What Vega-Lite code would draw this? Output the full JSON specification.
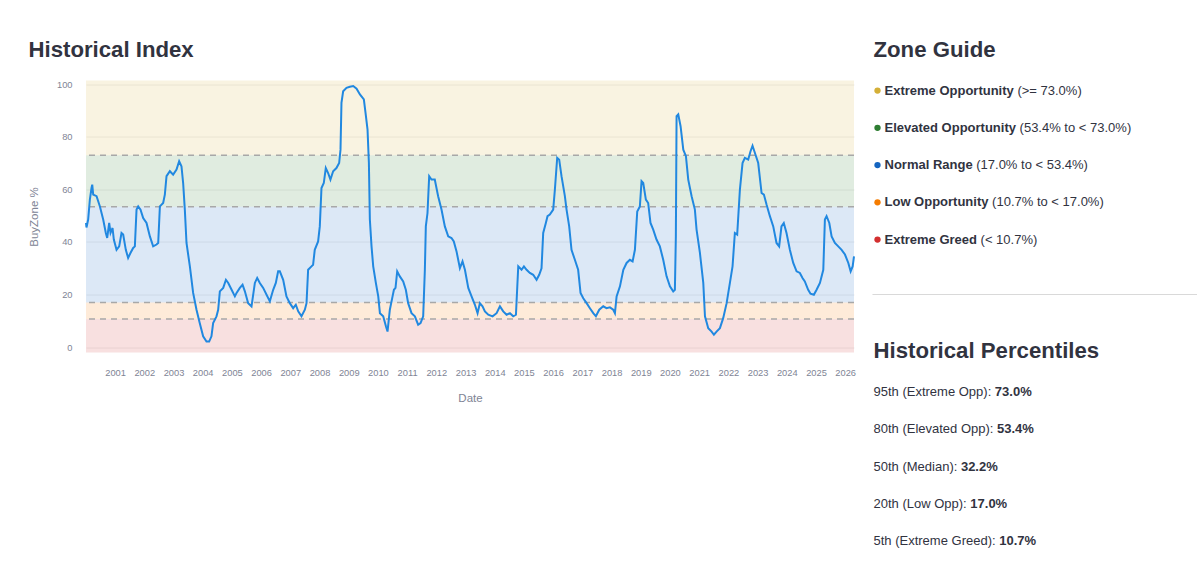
{
  "$schema": "https://vega.github.io/schema/vega-lite/v6.json",
  "background": "white",
  "padding": {"left": 28, "top": 38.5, "right": 0, "bottom": 0},
  "spacing": 13.5,
  "config": {
    "font": "Liberation Sans",
    "view": {"stroke": null},
    "axis": {"labelFont": "Liberation Sans", "titleFont": "Liberation Sans", "labelColor": "#808495", "titleColor": "#808495", "titleFontWeight": "normal"},
    "title": {"font": "Liberation Sans", "fontSize": 22.2, "fontWeight": "bold", "color": "#31333F", "anchor": "start"}
  },
  "datasets": {
    "bands": [
      {"zone": "Extreme Opportunity", "lo": 73, "hi": 105},
      {"zone": "Elevated Opportunity", "lo": 53.4, "hi": 73},
      {"zone": "Normal Range", "lo": 17, "hi": 53.4},
      {"zone": "Low Opportunity", "lo": 10.7, "hi": 17},
      {"zone": "Extreme Greed", "lo": -5, "hi": 10.7}
    ],
    "thresholds": [{"level": 73}, {"level": 53.4}, {"level": 17}, {"level": 10.7}],
    "zones": [
      {"row": 1, "name": "Extreme Opportunity", "range": "(>= 73.0%)"},
      {"row": 2, "name": "Elevated Opportunity", "range": "(53.4% to < 73.0%)"},
      {"row": 3, "name": "Normal Range", "range": "(17.0% to < 53.4%)"},
      {"row": 4, "name": "Low Opportunity", "range": "(10.7% to < 17.0%)"},
      {"row": 5, "name": "Extreme Greed", "range": "(< 10.7%)"}
    ],
    "pcts": [
      {"row": 1, "prefix": "95th (Extreme Opp):", "value": "73.0%"},
      {"row": 2, "prefix": "80th (Elevated Opp):", "value": "53.4%"},
      {"row": 3, "prefix": "50th (Median):", "value": "32.2%"},
      {"row": 4, "prefix": "20th (Low Opp):", "value": "17.0%"},
      {"row": 5, "prefix": "5th (Extreme Greed):", "value": "10.7%"}
    ],
    "series": [
      {"date": "2000-01-03", "v": 47.2}, {"date": "2000-01-09", "v": 45.5}, {"date": "2000-01-30", "v": 48.5},
      {"date": "2000-02-20", "v": 56}, {"date": "2000-03-12", "v": 60.5}, {"date": "2000-03-21", "v": 61.8},
      {"date": "2000-04-02", "v": 58}, {"date": "2000-05-14", "v": 57.4}, {"date": "2000-06-25", "v": 53.5},
      {"date": "2000-08-05", "v": 48.5}, {"date": "2000-09-07", "v": 43.4}, {"date": "2000-09-24", "v": 41.5},
      {"date": "2000-10-19", "v": 47.2}, {"date": "2000-11-05", "v": 43.4}, {"date": "2000-11-30", "v": 45.3},
      {"date": "2000-12-16", "v": 40.9}, {"date": "2001-01-19", "v": 37}, {"date": "2001-02-21", "v": 38.3},
      {"date": "2001-03-22", "v": 43.4}, {"date": "2001-04-12", "v": 42.8}, {"date": "2001-05-15", "v": 37},
      {"date": "2001-06-13", "v": 33.9}, {"date": "2001-07-12", "v": 35.8}, {"date": "2001-08-15", "v": 37.7},
      {"date": "2001-09-05", "v": 38.3}, {"date": "2001-09-26", "v": 52.3}, {"date": "2001-10-17", "v": 53.5},
      {"date": "2001-11-15", "v": 52.3}, {"date": "2001-12-18", "v": 49.1}, {"date": "2002-01-29", "v": 47.2},
      {"date": "2002-03-12", "v": 42.1}, {"date": "2002-04-22", "v": 38.3}, {"date": "2002-06-03", "v": 39},
      {"date": "2002-06-24", "v": 39.6}, {"date": "2002-07-15", "v": 53.5}, {"date": "2002-08-25", "v": 54.8},
      {"date": "2002-09-15", "v": 58}, {"date": "2002-10-06", "v": 65}, {"date": "2002-11-17", "v": 66.9},
      {"date": "2002-12-28", "v": 65.6}, {"date": "2003-02-08", "v": 67.5}, {"date": "2003-03-13", "v": 70.7},
      {"date": "2003-04-11", "v": 68.8}, {"date": "2003-05-02", "v": 62.4}, {"date": "2003-05-23", "v": 52.3},
      {"date": "2003-06-13", "v": 39.6}, {"date": "2003-07-25", "v": 30.7}, {"date": "2003-09-04", "v": 20.6},
      {"date": "2003-10-16", "v": 14.2}, {"date": "2003-11-26", "v": 9.1}, {"date": "2004-01-07", "v": 4.1},
      {"date": "2004-02-18", "v": 2.1}, {"date": "2004-03-22", "v": 2.1}, {"date": "2004-04-20", "v": 4.1},
      {"date": "2004-05-11", "v": 9.1}, {"date": "2004-06-22", "v": 11.7}, {"date": "2004-07-13", "v": 14.2},
      {"date": "2004-08-03", "v": 21.2}, {"date": "2004-09-14", "v": 22.5}, {"date": "2004-10-18", "v": 25.6},
      {"date": "2004-11-16", "v": 24.4}, {"date": "2004-12-28", "v": 21.8}, {"date": "2005-02-07", "v": 19.3},
      {"date": "2005-02-28", "v": 20.6}, {"date": "2005-04-10", "v": 22.5}, {"date": "2005-05-14", "v": 23.7},
      {"date": "2005-06-12", "v": 21.2}, {"date": "2005-07-23", "v": 16.7}, {"date": "2005-09-03", "v": 15.5},
      {"date": "2005-10-15", "v": 24.4}, {"date": "2005-11-13", "v": 26.3}, {"date": "2005-12-16", "v": 24.4},
      {"date": "2006-01-27", "v": 22.5}, {"date": "2006-03-10", "v": 19.9}, {"date": "2006-04-20", "v": 17.4},
      {"date": "2006-06-01", "v": 21.8}, {"date": "2006-07-04", "v": 24.4}, {"date": "2006-08-02", "v": 28.8},
      {"date": "2006-08-23", "v": 28.8}, {"date": "2006-10-04", "v": 25.6}, {"date": "2006-11-14", "v": 19.3},
      {"date": "2006-12-26", "v": 16.7}, {"date": "2007-02-06", "v": 14.8}, {"date": "2007-03-11", "v": 16.1},
      {"date": "2007-04-10", "v": 13.6}, {"date": "2007-05-21", "v": 11.7}, {"date": "2007-07-02", "v": 14.2},
      {"date": "2007-07-23", "v": 16.7}, {"date": "2007-08-12", "v": 29.4}, {"date": "2007-09-23", "v": 30.7},
      {"date": "2007-10-13", "v": 31.3}, {"date": "2007-11-03", "v": 37}, {"date": "2007-12-15", "v": 40.2},
      {"date": "2008-01-05", "v": 45.9}, {"date": "2008-01-26", "v": 60.5}, {"date": "2008-02-24", "v": 62.4},
      {"date": "2008-03-20", "v": 68.1}, {"date": "2008-04-18", "v": 66.2}, {"date": "2008-05-17", "v": 63.7},
      {"date": "2008-06-20", "v": 66.9}, {"date": "2008-07-31", "v": 68.1}, {"date": "2008-09-03", "v": 70},
      {"date": "2008-09-20", "v": 75.1}, {"date": "2008-10-02", "v": 92.9}, {"date": "2008-10-23", "v": 97.3},
      {"date": "2008-12-04", "v": 98.6}, {"date": "2009-01-15", "v": 99}, {"date": "2009-02-26", "v": 99.3},
      {"date": "2009-04-09", "v": 98.3}, {"date": "2009-05-21", "v": 96.1}, {"date": "2009-07-09", "v": 94.2},
      {"date": "2009-07-30", "v": 89.1}, {"date": "2009-08-24", "v": 82.7}, {"date": "2009-09-10", "v": 70},
      {"date": "2009-09-22", "v": 48.5}, {"date": "2009-10-13", "v": 38.3}, {"date": "2009-11-03", "v": 30.7},
      {"date": "2009-12-06", "v": 24.4}, {"date": "2010-01-05", "v": 19.3}, {"date": "2010-01-26", "v": 12.9},
      {"date": "2010-03-08", "v": 11.7}, {"date": "2010-04-11", "v": 7.9}, {"date": "2010-05-01", "v": 5.9},
      {"date": "2010-05-30", "v": 14.2}, {"date": "2010-07-03", "v": 19.3}, {"date": "2010-07-20", "v": 21.8},
      {"date": "2010-08-09", "v": 22.5}, {"date": "2010-08-30", "v": 28.8}, {"date": "2010-10-02", "v": 26.9},
      {"date": "2010-11-13", "v": 25}, {"date": "2010-12-16", "v": 21.8}, {"date": "2011-01-14", "v": 16.7},
      {"date": "2011-02-25", "v": 12.9}, {"date": "2011-04-08", "v": 11.7}, {"date": "2011-05-19", "v": 8.5},
      {"date": "2011-06-18", "v": 9.1}, {"date": "2011-07-21", "v": 11.7}, {"date": "2011-08-11", "v": 29.4},
      {"date": "2011-08-23", "v": 45.9}, {"date": "2011-09-13", "v": 51}, {"date": "2011-10-04", "v": 65},
      {"date": "2011-11-02", "v": 63.7}, {"date": "2011-12-13", "v": 63.7}, {"date": "2012-01-24", "v": 57.4},
      {"date": "2012-03-06", "v": 52.3}, {"date": "2012-04-17", "v": 45.9}, {"date": "2012-05-29", "v": 42.1},
      {"date": "2012-07-09", "v": 41.5}, {"date": "2012-08-07", "v": 40.2}, {"date": "2012-09-10", "v": 36.4},
      {"date": "2012-10-22", "v": 30}, {"date": "2012-11-24", "v": 32.6}, {"date": "2012-12-24", "v": 29.4},
      {"date": "2013-02-04", "v": 22.5}, {"date": "2013-03-17", "v": 19.3}, {"date": "2013-04-28", "v": 16.1},
      {"date": "2013-05-31", "v": 12.9}, {"date": "2013-06-29", "v": 16.7}, {"date": "2013-08-01", "v": 15.5},
      {"date": "2013-08-31", "v": 13.6}, {"date": "2013-10-12", "v": 12.3}, {"date": "2013-12-05", "v": 11.7},
      {"date": "2014-01-24", "v": 12.9}, {"date": "2014-03-07", "v": 15.5}, {"date": "2014-04-17", "v": 13.6},
      {"date": "2014-05-29", "v": 12.3}, {"date": "2014-07-10", "v": 12.9}, {"date": "2014-08-20", "v": 11.7},
      {"date": "2014-09-23", "v": 12.3}, {"date": "2014-10-22", "v": 30.7}, {"date": "2014-12-02", "v": 29.4},
      {"date": "2015-01-01", "v": 30.7}, {"date": "2015-02-03", "v": 29.4}, {"date": "2015-03-16", "v": 28.2},
      {"date": "2015-04-27", "v": 27.5}, {"date": "2015-06-08", "v": 25.6}, {"date": "2015-07-11", "v": 27.5},
      {"date": "2015-08-09", "v": 30}, {"date": "2015-08-30", "v": 43.4}, {"date": "2015-10-02", "v": 47.2},
      {"date": "2015-10-23", "v": 49.8}, {"date": "2015-11-21", "v": 50.4}, {"date": "2016-01-02", "v": 52.3},
      {"date": "2016-01-23", "v": 59.9}, {"date": "2016-02-21", "v": 72}, {"date": "2016-03-17", "v": 71.3},
      {"date": "2016-04-15", "v": 65}, {"date": "2016-05-27", "v": 57.4}, {"date": "2016-06-17", "v": 52.3},
      {"date": "2016-07-20", "v": 45.9}, {"date": "2016-08-18", "v": 37}, {"date": "2016-09-29", "v": 33.2},
      {"date": "2016-11-09", "v": 29.4}, {"date": "2016-12-09", "v": 20.6}, {"date": "2017-01-12", "v": 18.6},
      {"date": "2017-02-23", "v": 16.7}, {"date": "2017-04-05", "v": 14.8}, {"date": "2017-05-17", "v": 12.9},
      {"date": "2017-06-19", "v": 11.7}, {"date": "2017-07-31", "v": 14.2}, {"date": "2017-09-19", "v": 15.5},
      {"date": "2017-10-30", "v": 14.8}, {"date": "2017-12-11", "v": 15.1}, {"date": "2018-01-22", "v": 14.2},
      {"date": "2018-02-12", "v": 12.9}, {"date": "2018-03-05", "v": 19.3}, {"date": "2018-04-16", "v": 23.1},
      {"date": "2018-05-28", "v": 29.4}, {"date": "2018-07-08", "v": 32}, {"date": "2018-08-18", "v": 33.2},
      {"date": "2018-09-21", "v": 32.6}, {"date": "2018-10-20", "v": 37}, {"date": "2018-11-18", "v": 51.6},
      {"date": "2018-12-21", "v": 53.5}, {"date": "2019-01-11", "v": 63.1}, {"date": "2019-02-01", "v": 62.4},
      {"date": "2019-03-06", "v": 56.1}, {"date": "2019-04-04", "v": 54.8}, {"date": "2019-05-03", "v": 47.2},
      {"date": "2019-06-06", "v": 44.7}, {"date": "2019-07-17", "v": 40.9}, {"date": "2019-08-28", "v": 38.3},
      {"date": "2019-10-09", "v": 33.2}, {"date": "2019-11-20", "v": 26.9}, {"date": "2020-01-01", "v": 23.1},
      {"date": "2020-02-11", "v": 21.2}, {"date": "2020-03-03", "v": 21.8}, {"date": "2020-03-15", "v": 42.1},
      {"date": "2020-03-24", "v": 87.8}, {"date": "2020-04-14", "v": 88.5}, {"date": "2020-05-13", "v": 84},
      {"date": "2020-06-16", "v": 75.1}, {"date": "2020-07-19", "v": 72.6}, {"date": "2020-08-17", "v": 63.7},
      {"date": "2020-09-28", "v": 57.4}, {"date": "2020-11-08", "v": 52.3}, {"date": "2020-11-29", "v": 44.7},
      {"date": "2021-01-10", "v": 35.8}, {"date": "2021-02-21", "v": 24.4}, {"date": "2021-03-14", "v": 11.7},
      {"date": "2021-04-24", "v": 7.2}, {"date": "2021-06-05", "v": 5.9}, {"date": "2021-07-04", "v": 4.7},
      {"date": "2021-08-06", "v": 5.9}, {"date": "2021-09-17", "v": 7.2}, {"date": "2021-10-28", "v": 11},
      {"date": "2021-12-10", "v": 16.7}, {"date": "2022-01-20", "v": 24.4}, {"date": "2022-02-22", "v": 30.7},
      {"date": "2022-03-23", "v": 43.4}, {"date": "2022-04-21", "v": 42.8}, {"date": "2022-05-25", "v": 59.9},
      {"date": "2022-06-27", "v": 70}, {"date": "2022-07-26", "v": 72}, {"date": "2022-09-06", "v": 71.3},
      {"date": "2022-10-05", "v": 74.5}, {"date": "2022-10-30", "v": 76.6}, {"date": "2022-11-28", "v": 73.9},
      {"date": "2023-01-09", "v": 70}, {"date": "2023-02-20", "v": 58.6}, {"date": "2023-03-21", "v": 58},
      {"date": "2023-04-23", "v": 54.2}, {"date": "2023-06-04", "v": 49.8}, {"date": "2023-07-16", "v": 45.9},
      {"date": "2023-08-26", "v": 39.6}, {"date": "2023-09-28", "v": 38.3}, {"date": "2023-10-27", "v": 45.9},
      {"date": "2023-11-25", "v": 47.2}, {"date": "2023-12-29", "v": 43.4}, {"date": "2024-02-09", "v": 37},
      {"date": "2024-03-22", "v": 32}, {"date": "2024-05-03", "v": 28.8}, {"date": "2024-06-13", "v": 28.2},
      {"date": "2024-07-16", "v": 26.3}, {"date": "2024-08-14", "v": 25}, {"date": "2024-09-25", "v": 21.8},
      {"date": "2024-10-24", "v": 20.3}, {"date": "2024-12-05", "v": 19.9}, {"date": "2025-01-08", "v": 21.8},
      {"date": "2025-02-19", "v": 24.4}, {"date": "2025-04-02", "v": 29.4}, {"date": "2025-04-22", "v": 48.5},
      {"date": "2025-05-13", "v": 49.8}, {"date": "2025-06-16", "v": 47.2}, {"date": "2025-07-15", "v": 42.1},
      {"date": "2025-08-25", "v": 39.6}, {"date": "2025-10-06", "v": 38.3}, {"date": "2025-11-17", "v": 37},
      {"date": "2025-12-29", "v": 35.2}, {"date": "2026-02-09", "v": 32}, {"date": "2026-03-10", "v": 28.8},
      {"date": "2026-04-04", "v": 30.7}, {"date": "2026-04-21", "v": 34.5}
    ]
  },
  "hconcat": [
    {
      "title": {"text": "Historical Index", "frame": "bounds", "offset": 19},
      "width": 768,
      "height": 272,
      "layer": [
        {
          "data": {"name": "bands"},
          "mark": {"type": "rect", "opacity": 0.15, "clip": true},
          "encoding": {
            "y": {"field": "lo", "type": "quantitative", "title": "BuyZone %",
              "scale": {"domain": [-2.06, 101.4], "nice": false, "zero": false},
              "axis": {"values": [0, 10, 20, 30, 40, 50, 60, 70, 80, 90, 100], "grid": true, "gridColor": "#eeeeee", "gridWidth": 1,
                "ticks": false, "tickSize": 0, "domain": false, "labelPadding": 14, "labelFontSize": 9.3,
                "titleFontSize": 11.5, "titlePadding": 17}},
            "y2": {"field": "hi"},
            "color": {"field": "zone", "type": "nominal", "legend": null,
              "scale": {"domain": ["Extreme Opportunity", "Elevated Opportunity", "Normal Range", "Low Opportunity", "Extreme Greed"],
                "range": ["#d4af37", "#2e7d32", "#1565c0", "#f57c00", "#d32f2f"]}}
          }
        },
        {
          "data": {"name": "thresholds"},
          "mark": {"type": "rule", "strokeDash": [6, 5], "color": "#a8a8a8", "strokeWidth": 1.5},
          "encoding": {
            "y": {"field": "level", "type": "quantitative", "title": "BuyZone %", "scale": {"domain": [-2.06, 101.4], "nice": false, "zero": false}}
          }
        },
        {
          "data": {"name": "series"},
          "mark": {"type": "line", "color": "#2188e0", "strokeWidth": 2},
          "encoding": {
            "x": {"field": "date", "type": "temporal", "title": "Date",
              "scale": {"type": "utc", "domain": [{"year": 2000, "month": 1, "date": 3, "utc": true}, {"year": 2026, "month": 4, "date": 21, "utc": true}]},
              "axis": {"values": [
                {"year": 2001, "utc": true}, {"year": 2002, "utc": true}, {"year": 2003, "utc": true}, {"year": 2004, "utc": true},
                {"year": 2005, "utc": true}, {"year": 2006, "utc": true}, {"year": 2007, "utc": true}, {"year": 2008, "utc": true},
                {"year": 2009, "utc": true}, {"year": 2010, "utc": true}, {"year": 2011, "utc": true}, {"year": 2012, "utc": true},
                {"year": 2013, "utc": true}, {"year": 2014, "utc": true}, {"year": 2015, "utc": true}, {"year": 2016, "utc": true},
                {"year": 2017, "utc": true}, {"year": 2018, "utc": true}, {"year": 2019, "utc": true}, {"year": 2020, "utc": true},
                {"year": 2021, "utc": true}, {"year": 2022, "utc": true}, {"year": 2023, "utc": true}, {"year": 2024, "utc": true},
                {"year": 2025, "utc": true}, {"year": 2026, "utc": true}],
                "format": "%Y", "grid": false, "ticks": false, "tickSize": 0, "domain": false, "labelPadding": 15.5,
                "labelFontSize": 9.3, "labelOverlap": false, "labelFlush": false, "titleFontSize": 11.5, "titlePadding": 15}},
            "y": {"field": "v", "type": "quantitative", "title": "BuyZone %", "scale": {"domain": [-2.06, 101.4], "nice": false, "zero": false}}
          }
        }
      ]
    },
    {
      "spacing": 44,
      "vconcat": [
        {
          "title": {"text": "Zone Guide", "frame": "group", "dx": -4, "offset": 19},
          "width": 321,
          "height": 214,
          "layer": [
            {
              "data": {"name": "zones"},
              "mark": {"type": "circle", "size": 40, "opacity": 1},
              "encoding": {
                "x": {"datum": 0, "type": "quantitative", "scale": {"domain": [0, 1], "nice": false, "zero": false}, "axis": null},
                "y": {"field": "row", "type": "quantitative", "scale": {"domain": [0.729, 6.474], "reverse": true, "nice": false, "zero": false}, "axis": null},
                "color": {"field": "name", "type": "nominal", "legend": null,
                  "scale": {"domain": ["Extreme Opportunity", "Elevated Opportunity", "Normal Range", "Low Opportunity", "Extreme Greed"],
                    "range": ["#d4af37", "#2e7d32", "#1565c0", "#f57c00", "#d32f2f"]}}
              }
            },
            {
              "data": {"name": "zones"},
              "mark": {"type": "text", "align": "left", "baseline": "middle", "dx": 7, "fontSize": 13, "fontWeight": "bold", "color": "#31333F"},
              "encoding": {
                "x": {"datum": 0, "type": "quantitative"},
                "y": {"field": "row", "type": "quantitative"},
                "text": {"field": "name"}
              }
            },
            {
              "data": {"name": "zones"},
              "mark": {"type": "text", "align": "left", "baseline": "middle", "fontSize": 13, "color": "#31333F",
                "dx": {"expr": "7 + 3.6 + 0.013 * (611 * length(datum.name) - 333 * (length(datum.name) - length(replace(datum.name, regexp('[il ]', 'g'), ''))) - 278 * (length(datum.name) - length(replace(datum.name, regexp('t', 'g'), ''))) - 222 * (length(datum.name) - length(replace(datum.name, regexp('r', 'g'), ''))) - 55 * (length(datum.name) - length(replace(datum.name, regexp('[xeyva]', 'g'), ''))) + 56 * (length(datum.name) - length(replace(datum.name, regexp('E', 'g'), ''))) + 111 * (length(datum.name) - length(replace(datum.name, regexp('[NR]', 'g'), ''))) + 167 * (length(datum.name) - length(replace(datum.name, regexp('[OwG]', 'g'), ''))) + 278 * (length(datum.name) - length(replace(datum.name, regexp('m', 'g'), ''))))"}},
              "encoding": {
                "x": {"datum": 0, "type": "quantitative"},
                "y": {"field": "row", "type": "quantitative"},
                "text": {"field": "range"}
              }
            },
            {
              "data": {"values": [{"divider": "end of zone guide"}]},
              "mark": {"type": "rule", "color": "#d9d9d9", "strokeWidth": 1},
              "encoding": {
                "x": {"datum": -0.0156, "type": "quantitative"},
                "x2": {"datum": 1},
                "y": {"datum": 6.474, "type": "quantitative"}
              }
            }
          ]
        },
        {
          "title": {"text": "Historical Percentiles", "frame": "group", "dx": -4, "offset": 11.6},
          "width": 321,
          "height": 186.5,
          "data": {"name": "pcts"},
          "encoding": {
            "x": {"datum": 0, "type": "quantitative", "scale": {"domain": [0, 1]}, "axis": null},
            "y": {"field": "row", "type": "quantitative", "scale": {"domain": [0.5, 5.5], "reverse": true, "nice": false, "zero": false}, "axis": null}
          },
          "layer": [
            {
              "mark": {"type": "text", "align": "left", "baseline": "middle", "dx": -4, "fontSize": 13, "color": "#31333F"},
              "encoding": {"text": {"field": "prefix"}}
            },
            {
              "mark": {"type": "text", "align": "left", "baseline": "middle", "fontSize": 13, "fontWeight": "bold", "color": "#31333F",
                "dx": {"expr": "-4 + 3.6 + 0.013 * (556 * length(datum.prefix) - 334 * (length(datum.prefix) - length(replace(datum.prefix, regexp('[li]', 'g'), ''))) - 278 * (length(datum.prefix) - length(replace(datum.prefix, regexp('[t :]', 'g'), ''))) - 223 * (length(datum.prefix) - length(replace(datum.prefix, regexp('[()r]', 'g'), ''))) - 56 * (length(datum.prefix) - length(replace(datum.prefix, regexp('[xv]', 'g'), ''))) + 111 * (length(datum.prefix) - length(replace(datum.prefix, regexp('E', 'g'), ''))) + 166 * (length(datum.prefix) - length(replace(datum.prefix, regexp('w', 'g'), ''))) + 222 * (length(datum.prefix) - length(replace(datum.prefix, regexp('[OG]', 'g'), ''))) + 277 * (length(datum.prefix) - length(replace(datum.prefix, regexp('[mM]', 'g'), ''))))"}},
              "encoding": {"text": {"field": "value"}}
            }
          ]
        }
      ]
    }
  ]
}
